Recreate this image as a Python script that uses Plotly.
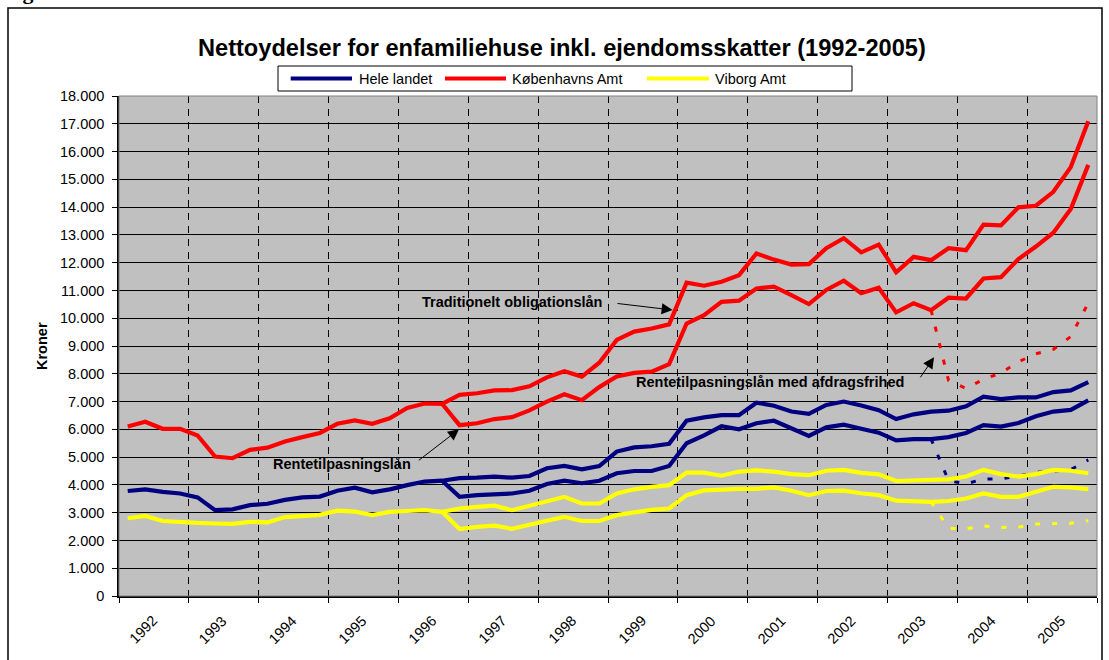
import plotly.graph_objects as go

# ---------------- data (kroner per quarter, 1992 K1 .. 2005 K4) ----------------
years = list(range(1992, 2006))
quarters = [f"{y} K{q}" for y in years for q in range(1, 5)]

# Traditionelt obligationslån
hl_trad = [3780, 3840, 3750, 3690, 3550, 3090, 3120, 3270, 3320, 3460,
           3550, 3580, 3790, 3900, 3730, 3840, 3990, 4120, 4150, 4240,
           4260, 4300, 4260, 4320, 4600, 4680, 4560, 4680, 5200, 5350,
           5390, 5480, 6310, 6430, 6510, 6510, 6960, 6850, 6640, 6560,
           6880, 7000, 6860, 6690, 6370, 6540, 6640, 6670, 6830, 7180,
           7090, 7150, 7150, 7340, 7400, 7700]
kbh_trad = [6100, 6270, 6020, 6020, 5780, 5020, 4960, 5260, 5340, 5560,
            5720, 5870, 6200, 6320, 6200, 6400, 6770, 6930, 6920, 7240,
            7300, 7400, 7410, 7550, 7870, 8090, 7900, 8400, 9220, 9520,
            9630, 9780, 11280, 11170, 11310, 11550, 12330, 12110, 11930, 11950,
            12520, 12880, 12370, 12650, 11650, 12210, 12090, 12520, 12450, 13370,
            13340, 13990, 14050, 14550, 15440, 17090]
vb_trad = [2800, 2880, 2700, 2650, 2630, 2610, 2600, 2670, 2650, 2840,
           2890, 2920, 3070, 3040, 2910, 3030, 3060, 3090, 3030, 3150,
           3210, 3250, 3090, 3250, 3390, 3570, 3330, 3330, 3690, 3840,
           3930, 3990, 4440, 4440, 4330, 4480, 4520, 4480, 4390, 4350,
           4510, 4540, 4430, 4380, 4140, 4150, 4180, 4200, 4300, 4540,
           4390, 4300, 4390, 4540, 4510, 4420]

# Rentetilpasningslån (from 1996 K3)
hl_rente = [None] * 18 + [
    4150, 3570, 3630, 3670, 3690, 3790, 4030, 4150, 4060, 4150,
    4420, 4500, 4500, 4680, 5500, 5780, 6110, 6000, 6220, 6310,
    6040, 5760, 6070, 6170, 6020, 5880, 5600, 5650, 5650, 5720,
    5870, 6150, 6100, 6230, 6470, 6640, 6700, 7040]
kbh_rente = [None] * 18 + [
    6920, 6150, 6220, 6370, 6440, 6680, 7000, 7260, 7050, 7520,
    7900, 8030, 8080, 8350, 9810, 10110, 10590, 10630, 11070, 11140,
    10830, 10510, 11020, 11350, 10900, 11100, 10210, 10540, 10290, 10740,
    10710, 11430, 11480, 12130, 12580, 13080, 13930, 15520]
vb_rente = [None] * 18 + [
    3030, 2410, 2490, 2530, 2420, 2550, 2710, 2850, 2700, 2700,
    2910, 3010, 3100, 3150, 3630, 3800, 3840, 3860, 3860, 3910,
    3790, 3630, 3780, 3790, 3700, 3630, 3430, 3420, 3390, 3420,
    3510, 3690, 3570, 3570, 3750, 3930, 3910, 3850]

# Rentetilpasningslån med afdragsfrihed (from 2003 K3)
hl_afdrag = [None] * 46 + [5650, 4150, 4040, 4210, 4220, 4320, 4450, 4500, 4550, 4900]
kbh_afdrag = [None] * 46 + [10290, 7760, 7470, 7800, 8030, 8430, 8720, 8880, 9340, 10550]
vb_afdrag = [None] * 46 + [3390, 2430, 2420, 2520, 2470, 2480, 2590, 2610, 2620, 2710]

series_names = ["Hele landet", "Københavns Amt", "Viborg Amt"]
series_colors = ["#000080", "#FF0000", "#FFFF00"]
y_ticks = list(range(0, 18001, 1000))

title_text = "Nettoydelser for enfamiliehuse inkl. ejendomsskatter (1992-2005)"
label_trad = "Traditionelt obligationslån"
label_rente = "Rentetilpasningslån"
label_afdrag = "Rentetilpasningslån med afdragsfrihed"

# ---------------- figure ----------------
W, H = 1109, 660
L, R, T, B = 119, 12, 96, 64
PW, PH = W - L - R, H - T - B
FONT = "Liberation Sans, Arial, sans-serif"


def px(v):  # pixel x -> paper
    return (v - L) / PW


def py(v):  # pixel y -> paper
    return (H - B - v) / PH


x = [i + 0.5 for i in range(len(quarters))]

fig = go.Figure()

groups = [
    (hl_afdrag, kbh_afdrag, vb_afdrag, dict(width=3, dash="5px,12px"), "afdragsfrihed"),
    (hl_rente, kbh_rente, vb_rente, dict(width=4.2), "rentetilpasning"),
    (hl_trad, kbh_trad, vb_trad, dict(width=4.2), "traditionelt"),
]
for a, b, c, style, tag in groups:
    for vals, name, col in zip((a, b, c), series_names, series_colors):
        fig.add_trace(go.Scatter(
            x=x, y=vals, mode="lines", name=f"{name} ({tag})",
            line=dict(color=col, **style), showlegend=False,
            text=quarters, hovertemplate="%{text}: %{y}<extra></extra>",
            connectgaps=False,
        ))

fig.update_layout(
    width=W, height=H,
    margin=dict(l=L, r=R, t=T, b=B, pad=0),
    paper_bgcolor="white",
    plot_bgcolor="#C0C0C0",
    separators=",.",
    font=dict(family=FONT, size=14.5, color="black"),
    showlegend=False,
    xaxis=dict(
        range=[0, len(quarters)],
        tickmode="array",
        tickvals=[4 * k for k in range(len(years) + 1)],
        ticktext=[""] * (len(years) + 1),
        showgrid=True, gridcolor="black", gridwidth=1, griddash="7px,6px",
        ticks="outside", ticklen=5, tickcolor="black",
        showline=True, linecolor="black", linewidth=1.5,
        zeroline=False, fixedrange=True,
    ),
    yaxis=dict(
        range=[0, 18000],
        tickmode="array", tickvals=y_ticks,
        tickformat=",d",
        showgrid=True, gridcolor="black", gridwidth=1,
        ticks="outside", ticklen=5, tickcolor="black",
        showline=True, linecolor="black", linewidth=1.5,
        zeroline=False, tickfont=dict(size=14.5),
        ticklabelstandoff=5,
    ),
)

ann = []
# title
ann.append(dict(text=f"<b>{title_text}</b>", xref="paper", yref="paper",
                x=px(562), y=py(47.5), showarrow=False,
                font=dict(size=23.6, family=FONT), xanchor="center", yanchor="middle"))
# figure caption (cut off at top edge, as in the original page)
ann.append(dict(text="<b>Figur 5</b>", xref="paper", yref="paper",
                x=px(1), y=py(6), showarrow=False, xanchor="left", yanchor="bottom",
                font=dict(size=22, family="Liberation Serif, Times New Roman, serif")))
# y axis title
ann.append(dict(text="<b>Kroner</b>", xref="paper", yref="paper",
                x=px(42), y=py(346), showarrow=False, textangle=-90,
                font=dict(size=14.5, family=FONT), xanchor="center", yanchor="middle"))
# year labels
for k, yr in enumerate(years):
    ann.append(dict(text=str(yr), xref="x", yref="paper",
                    x=4 * k + 1.35, y=py(629.5), showarrow=False, textangle=-45,
                    font=dict(size=14.5, family=FONT), xanchor="center", yanchor="middle"))
# loan type labels
ann.append(dict(text=f"<b>{label_trad}</b>", xref="x", yref="y", x=22.53, y=10595,
                showarrow=False, font=dict(size=14.5, family=FONT)))
ann.append(dict(text=f"<b>{label_rente}</b>", xref="x", yref="y", x=12.75, y=4741,
                showarrow=False, font=dict(size=14.5, family=FONT)))
ann.append(dict(text=f"<b>{label_afdrag}</b>", xref="x", yref="y", x=37.25, y=7715,
                showarrow=False, font=dict(size=14.5, family=FONT)))
# arrows
for (hx, hy, tx, ty) in [(31.70, 10296, 28.46, 10537),
                         (19.47, 6001, 17.08, 4842),
                         (46.67, 8593, 45.83, 7819)]:
    ann.append(dict(text="", xref="x", yref="y", x=hx, y=hy,
                    axref="x", ayref="y", ax=tx, ay=ty,
                    showarrow=True, arrowhead=2, arrowsize=2.2, arrowwidth=1,
                    arrowcolor="black", standoff=0, startstandoff=0))

# manual legend
leg_y = 78.5
leg_items = [(290.7, 352, 356.6), (445, 506, 510), (647, 709, 713)]
shapes = [
    dict(type="rect", xref="paper", yref="paper", x0=px(278), x1=px(852),
         y0=py(91), y1=py(66), line=dict(color="black", width=1), fillcolor="white",
         layer="above"),
    # outer chart frame
    dict(type="rect", xref="paper", yref="paper", x0=px(8), x1=px(1102),
         y0=py(672), y1=py(8), line=dict(color="black", width=1.5), layer="above"),
    # plot area border (gray)
    dict(type="rect", xref="paper", yref="paper", x0=0, x1=1, y0=0, y1=1,
         line=dict(color="#808080", width=1), layer="above"),
]
for (x0, x1, tx), name, col in zip(leg_items, series_names, series_colors):
    shapes.append(dict(type="line", xref="paper", yref="paper",
                       x0=px(x0), x1=px(x1), y0=py(leg_y), y1=py(leg_y),
                       line=dict(color=col, width=4), layer="above"))
    ann.append(dict(text=name, xref="paper", yref="paper", x=px(tx), y=py(leg_y),
                    xanchor="left", yanchor="middle", showarrow=False,
                    font=dict(size=14.5, family=FONT)))

fig.update_layout(annotations=ann, shapes=shapes)
fig.write_html("out.html",
               config={"displayModeBar": False},
               post_script="document.body.style.margin='0';"
                           "document.body.style.overflow='hidden';")
